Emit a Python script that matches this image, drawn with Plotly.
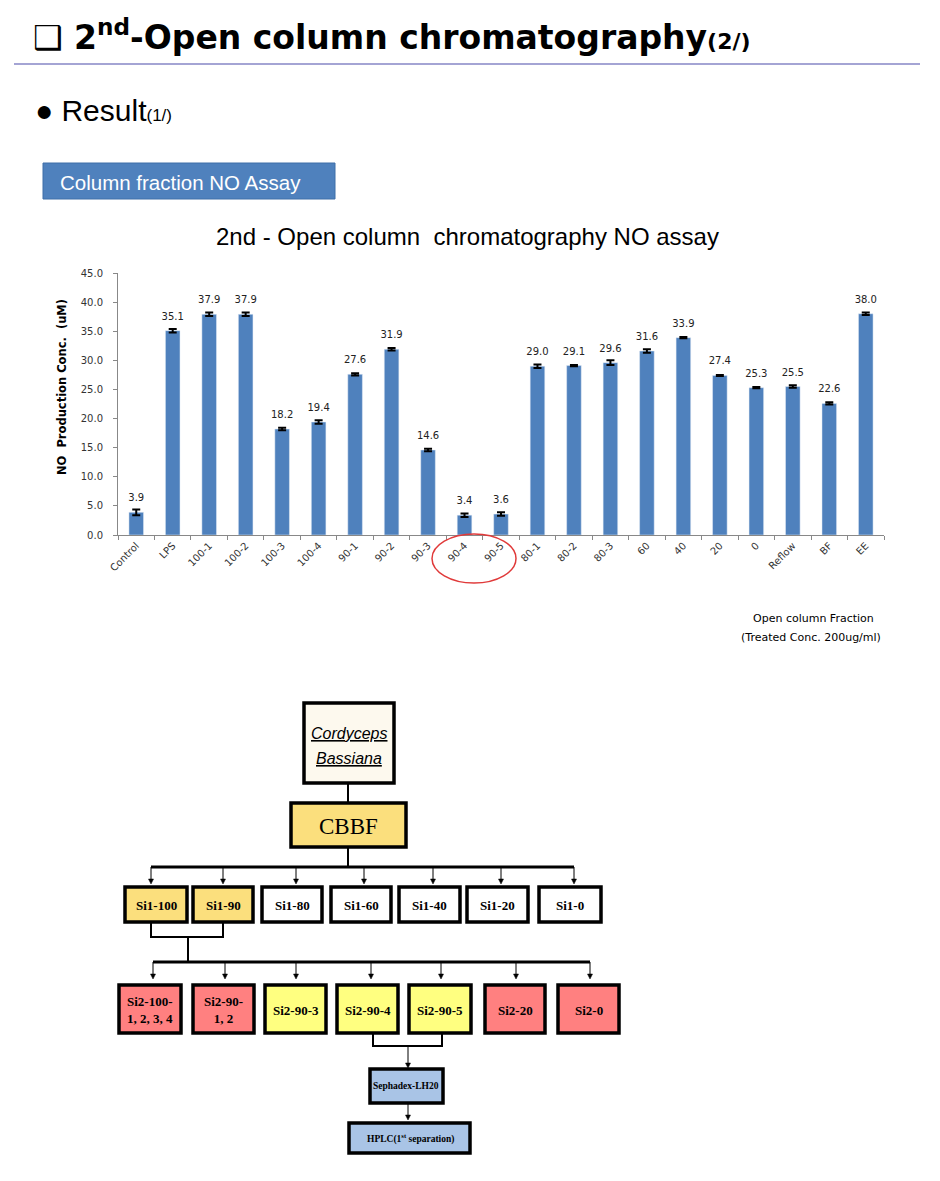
import plotly.graph_objects as go

# NO assay data
fractions = ["Control", "LPS", "100-1", "100-2", "100-3", "100-4", "90-1", "90-2",
             "90-3", "90-4", "90-5", "80-1", "80-2", "80-3", "60", "40", "20", "0",
             "Reflow", "BF", "EE"]
no_conc = [3.9, 35.1, 37.9, 37.9, 18.2, 19.4, 27.6, 31.9, 14.6, 3.4, 3.6, 29.0,
           29.1, 29.6, 31.6, 33.9, 27.4, 25.3, 25.5, 22.6, 38.0]
no_err = [0.5, 0.3, 0.3, 0.3, 0.2, 0.3, 0.2, 0.2, 0.2, 0.3, 0.3, 0.3,
          0.1, 0.4, 0.3, 0.1, 0.1, 0.1, 0.2, 0.2, 0.2]

# flowchart labels
si1_labels = ["Si1-100", "Si1-90", "Si1-80", "Si1-60", "Si1-40", "Si1-20", "Si1-0"]
si2_labels = ["Si2-100-<br>1, 2, 3, 4", "Si2-90-<br>1, 2", "Si2-90-3", "Si2-90-4",
              "Si2-90-5", "Si2-20", "Si2-0"]

W, H = 940, 1181
BLUE = "#4f81bd"
SANS = "Liberation Sans Narrow, Liberation Sans, Arial, sans-serif"
CHART = "DejaVu Sans, Verdana, sans-serif"
SERIF = "Liberation Serif, Times New Roman, serif"


# page pixels -> paper coords
def px(x):
    return x / W


def py(y):
    return 1 - y / H


fig = go.Figure()

fig.add_trace(go.Bar(
    x=fractions, y=no_conc,
    marker_color=BLUE,
    error_y=dict(type="data", array=no_err, color="black", thickness=2, width=4),
    hoverinfo="x+y",
))
# value labels above the bars (invisible markers push the text up)
fig.add_trace(go.Scatter(
    x=fractions, y=no_conc, mode="markers+text",
    text=[f"{v:.1f}" for v in no_conc], textposition="top center",
    textfont=dict(size=10, color="#222", family=CHART),
    marker=dict(size=12, opacity=0), hoverinfo="skip", cliponaxis=False,
))

shapes = []
annots = []


def box(x0, x1, y0, y1, fill, lw=3.5):
    shapes.append(dict(type="rect", xref="paper", yref="paper",
                       x0=px(x0), x1=px(x1), y0=py(y0), y1=py(y1),
                       fillcolor=fill, line=dict(color="black", width=lw)))


def line(pts, lw=2):
    path = "M " + " L ".join(f"{px(x)},{py(y)}" for x, y in pts)
    shapes.append(dict(type="path", xref="paper", yref="paper", path=path,
                       line=dict(color="black", width=lw)))


def arrow(x, y0, y1):
    line([(x, y0), (x, y1 - 4)], 1)
    shapes.append(dict(type="path", xref="paper", yref="paper",
                       path=f"M {px(x-2.5)},{py(y1-5)} L {px(x+2.5)},{py(y1-5)} L {px(x)},{py(y1)} Z",
                       fillcolor="black", line=dict(color="black", width=0.5)))


def text(x, y, s, size, family=SERIF, color="black", xanchor="center", angle=0):
    annots.append(dict(xref="paper", yref="paper", x=px(x), y=py(y), text=s,
                       showarrow=False, xanchor=xanchor, yanchor="middle",
                       textangle=angle,
                       font=dict(size=size, family=family, color=color)))


# header
text(31, 35, "<b>❑ 2<sup>nd</sup>-Open column chromatography<span style='font-size:22px'>(2/)</span></b>",
     33, family="DejaVu Sans, Verdana, sans-serif", xanchor="left")
shapes.append(dict(type="line", xref="paper", yref="paper", x0=px(14), x1=px(920),
                   y0=py(64), y1=py(64), line=dict(color="#a4a4d4", width=2)))
text(33, 110, "● Result<span style='font-size:17px'>(1/)</span>", 30, family=SANS,
     xanchor="left")
shapes.append(dict(type="rect", xref="paper", yref="paper", x0=px(43), x1=px(335),
                   y0=py(163), y1=py(199), fillcolor=BLUE,
                   line=dict(color="#3f6fa8", width=1)))
text(58, 182, "Column fraction NO Assay", 20.5, family=SANS, color="white", xanchor="left")
text(467, 237, "2nd - Open column  chromatography NO assay", 24, family=SANS)
text(62, 387, "<b>NO  Production Conc.  (uM)</b>", 11.5, family=CHART, angle=-90)
text(813, 618, "Open column Fraction", 11, family=CHART)
text(811, 637, "(Treated Conc. 200ug/ml)", 11, family=CHART)

# red circle around 90-4 / 90-5
shapes.append(dict(type="circle", xref="paper", yref="paper", x0=px(432), x1=px(516),
                   y0=py(534), y1=py(583), line=dict(color="#e03a3a", width=1.5)))

# flowchart
box(304, 394, 703, 783, "#fdf9ee")
text(349, 733, "<i><u>Cordyceps</u></i>", 16, family=SANS)
text(349, 758, "<i><u>Bassiana</u></i>", 16, family=SANS)
line([(348, 783), (348, 803)], 2)
box(291, 406, 803, 847, "#fbdf7d")
text(348, 826, "CBBF", 23)
line([(348, 847), (348, 867)], 2)
line([(151, 867), (574, 867)], 3)

si1_x = [(125, 187), (193, 253), (262, 322), (331, 391), (399, 460), (467, 528), (539, 601)]
si1_arrow = [151, 223, 296, 364, 433, 501, 574]
si1_fill = ["#fbdf7d", "#fbdf7d", "white", "white", "white", "white", "white"]
for lab, (x0, x1), ax, f in zip(si1_labels, si1_x, si1_arrow, si1_fill):
    arrow(ax, 867, 884)
    box(x0, x1, 887, 922, f)
    text((x0 + x1) / 2, 905, f"<b>{lab}</b>", 13)

line([(151, 922), (151, 937), (223, 937), (223, 922)], 2)
line([(188, 937), (188, 962)], 2)
line([(153, 962), (590, 962)], 3)

si2_x = [(119, 181), (193, 254), (265, 326), (337, 398), (409, 471), (485, 545), (558, 619)]
si2_arrow = [153, 225, 296, 371, 441, 516, 590]
si2_fill = ["#ff8080", "#ff8080", "#ffff80", "#ffff80", "#ffff80", "#ff8080", "#ff8080"]
for lab, (x0, x1), ax, f in zip(si2_labels, si2_x, si2_arrow, si2_fill):
    arrow(ax, 962, 979)
    box(x0, x1, 985, 1033, f)
    text((x0 + x1) / 2, 1010, f"<b>{lab}</b>", 13)

line([(373, 1033), (373, 1046), (442, 1046), (442, 1033)], 2)
arrow(408, 1046, 1068)
box(370, 443, 1069, 1103, "#a9c4e6")
text(406, 1086, "<b>Sephadex-LH20</b>", 9.5)
arrow(408, 1103, 1120)
box(349, 470, 1123, 1153, "#a9c4e6")
text(410, 1138, "<b>HPLC(1<sup>st</sup> separation)</b>", 9.5)

fig.update_layout(
    width=W, height=H,
    margin=dict(l=0, r=0, t=0, b=0, pad=0, autoexpand=False),
    paper_bgcolor="white", plot_bgcolor="white",
    showlegend=False,
    bargap=0.6,
    shapes=shapes, annotations=annots,
    xaxis=dict(type="category", domain=[px(118), px(884)], tickangle=-45,
               automargin=False, range=[-0.5, len(fractions) - 0.5],
               tickfont=dict(size=10, color="#333", family=CHART),
               showline=True, linecolor="#888", linewidth=1,
               ticks="outside", tickson="boundaries", ticklen=4, tickcolor="#888"),
    yaxis=dict(domain=[py(535), py(273)], range=[0, 45], dtick=5, automargin=False,
               tickformat=".1f", showgrid=False, zeroline=False,
               showline=True, linecolor="#888", linewidth=1,
               ticks="outside", ticklen=4, tickcolor="#888", ticklabelstandoff=8,
               tickfont=dict(size=10, color="#333", family=CHART)),
)

fig.write_html("out.html", config={"displayModeBar": False},
               post_script="document.body.style.margin='0';")
